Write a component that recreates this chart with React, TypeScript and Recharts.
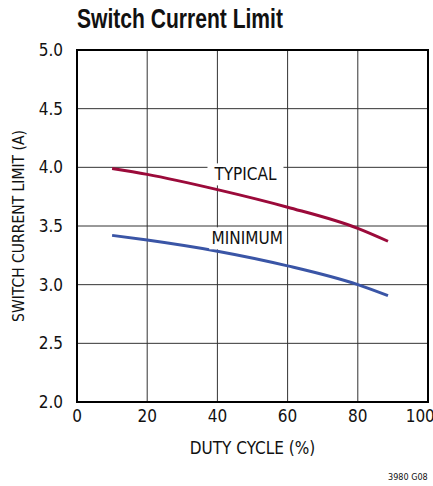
import { LineChart, Line, XAxis, YAxis, CartesianGrid, ReferenceArea, ReferenceDot, Label } from "recharts"

const FONT = "'DejaVu Sans Condensed', 'Liberation Sans', sans-serif"

const dutyCycle = [10, 20, 40, 60, 80, 88.6]
const typical = [3.99, 3.94, 3.81, 3.66, 3.48, 3.37]
const minimum = [3.42, 3.38, 3.285, 3.16, 3.0, 2.906]
const xTicks = [0, 20, 40, 60, 80, 100]
const yTicks = [2, 2.5, 3, 3.5, 4, 4.5, 5]

const data = dutyCycle.map((d, i) => ({ d, typ: typical[i], min: minimum[i] }))

const BoxLabel = ({ viewBox, value }: any) => {
  const cx = viewBox.x
  const cy = viewBox.y
  const w = value.length * 10 + 6
  return (
    <g>
      <rect x={cx - w / 2} y={cy - 11} width={w} height={22} fill="#fff" />
      <text x={cx} y={cy + 6} textAnchor="middle" fontSize={17} fontFamily={FONT} fill="#111">
        {value}
      </text>
    </g>
  )
}

export default function App() {
  return (
    <div style={{ position: "absolute", left: 0, top: 0, width: 433, height: 486, background: "#fff" }}>
      <div
        style={{
          position: "absolute",
          left: 77,
          top: 4,
          fontFamily: "'Liberation Sans', Arial, sans-serif",
          fontWeight: "bold",
          fontSize: 27,
          color: "#111",
          transform: "scaleX(0.78)",
          transformOrigin: "left top",
          whiteSpace: "nowrap",
        }}
      >
        Switch Current Limit
      </div>
      <div style={{ position: "absolute", left: 388, top: 472, fontFamily: FONT, fontSize: 9, color: "#111" }}>
        3980 G08
      </div>
      <LineChart width={433} height={486} data={data} margin={{ top: 50, right: 5, bottom: 54, left: 0 }}>
        <CartesianGrid stroke="#333" strokeWidth={1} />
        <XAxis
          dataKey="d"
          type="number"
          domain={[0, 100]}
          ticks={xTicks}
          axisLine={false}
          tickLine={false}
          height={30}
          tick={{ fontSize: 17, fontFamily: FONT, fill: "#111" }}
          tickMargin={2}
        >
          <Label value="DUTY CYCLE (%)" position="insideBottom" offset={-22} style={{ fontSize: 17, fontFamily: FONT, fill: "#111" }} />
        </XAxis>
        <YAxis
          type="number"
          domain={[2, 5]}
          ticks={yTicks}
          width={77}
          axisLine={false}
          tickLine={false}
          tickFormatter={(v: number) => v.toFixed(1)}
          tick={{ fontSize: 17, fontFamily: FONT, fill: "#111" }}
          tickMargin={8}
        >
          <Label value="SWITCH CURRENT  LIMIT (A)" angle={-90} position="insideLeft" offset={18} style={{ fontSize: 15.5, fontFamily: FONT, fill: "#111", textAnchor: "middle" }} />
        </YAxis>
        <ReferenceArea x1={0} x2={100} y1={2} y2={5} fill="none" stroke="#000" strokeWidth={2} />
        <Line dataKey="typ" type="monotone" stroke="#9b0a3a" strokeWidth={3} dot={false} isAnimationActive={false} />
        <Line dataKey="min" type="monotone" stroke="#3a55a6" strokeWidth={3} dot={false} isAnimationActive={false} />
        <ReferenceDot x={48} y={3.94} r={0} label={<BoxLabel value="TYPICAL" />} />
        <ReferenceDot x={48.5} y={3.395} r={0} label={<BoxLabel value="MINIMUM" />} />
      </LineChart>
    </div>
  )
}
